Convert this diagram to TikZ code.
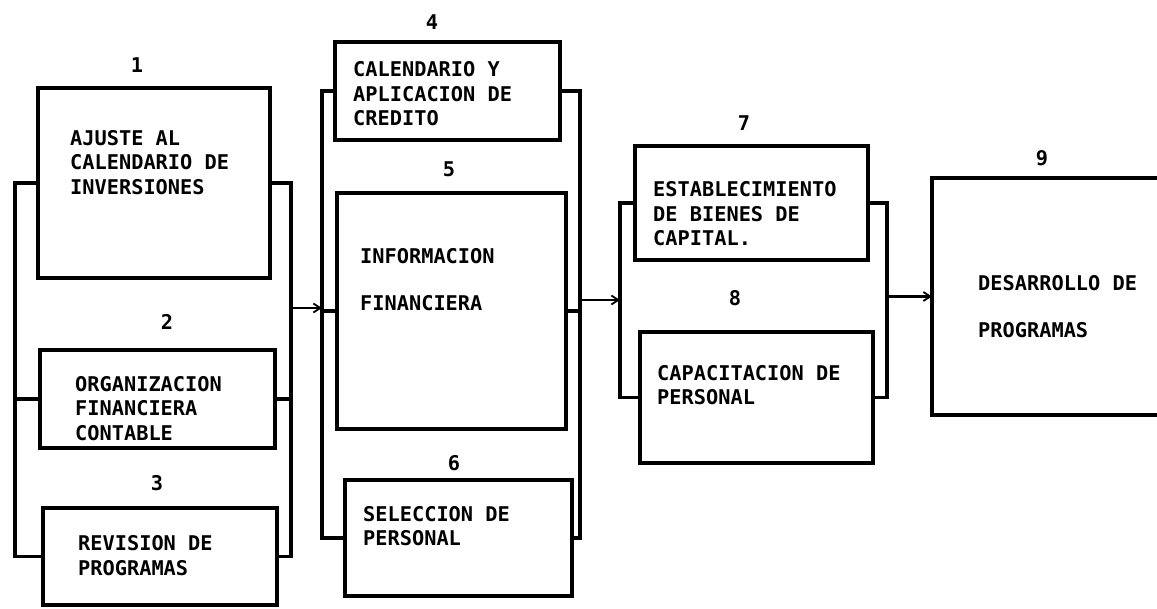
\documentclass[tikz,border=0pt]{standalone}
\usepackage{fontspec}
\newfontfamily\printfont{DejaVu Sans Mono}
\usetikzlibrary{arrows.meta,calc}
\begin{document}
\begin{tikzpicture}[x=1pt,y=-1pt,
  box/.style={draw, line width=3.2pt, rectangle, anchor=north west, inner sep=0pt, outer sep=0pt},
  txt/.style={anchor=base west, inner sep=0pt, align=left, font=\printfont\bfseries\fontsize{20.3}{24.5}\selectfont},
  wide/.style={font=\printfont\bfseries\fontsize{20.3}{47.5}\selectfont},
  num/.style={inner sep=0pt, font=\printfont\bfseries\fontsize{20.3}{24}\selectfont},
  brk/.style={line width=3.2pt, line join=miter},
  flow/.style={line width=2.4pt, -{Straight Barb[length=7pt,width=9pt,line width=1.8pt]}}]
\useasboundingbox (0,0) rectangle (1157,608);
\fill[white] (0,0) rectangle (1157,608);
\begin{scope}
\clip (0,0) rectangle (1157,608);
% boxes
\node[box, minimum width=232pt, minimum height=190pt] (b1) at (38,88) {};
\node[box, minimum width=235pt, minimum height=98pt] (b2) at (40,350) {};
\node[box, minimum width=234pt, minimum height=97pt] (b3) at (43,508) {};
\node[box, minimum width=225pt, minimum height=98pt] (b4) at (335,42) {};
\node[box, minimum width=229pt, minimum height=236pt] (b5) at (337,193) {};
\node[box, minimum width=227pt, minimum height=116pt] (b6) at (345,480) {};
\node[box, minimum width=233pt, minimum height=114pt] (b7) at (635,146) {};
\node[box, minimum width=233pt, minimum height=131pt] (b8) at (640,332) {};
\node[box, minimum width=240pt, minimum height=237pt] (b9) at (932,178) {};
% numbers
\node[num] (n1) at (137,65) {1};
\node[num] (n2) at (167,322) {2};
\node[num] (n3) at (157,483) {3};
\node[num] (n4) at (432,22) {4};
\node[num] (n5) at (449,169) {5};
\node[num] (n6) at (454,463) {6};
\node[num] (n7) at (744,123) {7};
\node[num] (n8) at (735,298) {8};
\node[num] (n9) at (1042,158) {9};
% texts (anchored at the baseline of the last line)
\node[txt] (t1) at (70,194) {AJUSTE AL\\CALENDARIO DE\\INVERSIONES};
\node[txt] (t2) at (75,440) {ORGANIZACION\\FINANCIERA\\CONTABLE};
\node[txt] (t3) at (78,575) {REVISION DE\\PROGRAMAS};
\node[txt] (t4) at (353,125.5) {CALENDARIO Y\\APLICACION DE\\CREDITO};
\node[txt,wide] (t5) at (360,310.5) {INFORMACION\\FINANCIERA};
\node[txt] (t6) at (363,545.5) {SELECCION DE\\PERSONAL};
\node[txt] (t7) at (653,245.5) {ESTABLECIMIENTO\\DE BIENES DE\\CAPITAL.};
\node[txt] (t8) at (657,404.5) {CAPACITACION DE\\PERSONAL};
\node[txt,wide] (t9) at (978,337.5) {DESARROLLO DE\\PROGRAMAS};
% bracket columns
\coordinate (L1) at (15,0);  \coordinate (R1) at (291,0);
\coordinate (L2) at (322,0); \coordinate (R2) at (580,0);
\coordinate (L3) at (620,0); \coordinate (R3) at (887,0);
% column 1
\draw[brk] (b1.west) -- (b1.west -| L1) -- (b3.west -| L1) -- (b3.west);
\draw[brk] (b2.west) -- (b2.west -| L1);
\draw[brk] (b1.east) -- (b1.east -| R1) -- (b3.east -| R1) -- (b3.east);
\draw[brk] (b2.east) -- (b2.east -| R1);
% column 2
\draw[brk] (b4.west) -- (b4.west -| L2) -- (b6.west -| L2) -- (b6.west);
\draw[brk] (b5.west) -- (b5.west -| L2);
\draw[brk] (b4.east) -- (b4.east -| R2) -- (b6.east -| R2) -- (b6.east);
\draw[brk] (b5.east) -- (b5.east -| R2);
% column 3
\draw[brk] (b7.west) -- (b7.west -| L3) -- (b8.west -| L3) -- (b8.west);
\draw[brk] (b7.east) -- (b7.east -| R3) -- (b8.east -| R3) -- (b8.east);
% flow arrows
\coordinate (o1) at (291,308); \coordinate (i2) at (322,308);
\coordinate (o2) at (580,300); \coordinate (i3) at (620,300);
\coordinate (o3) at (b9.west -| R3);
\draw[flow] (o1) -- (i2);
\draw[flow] (o2) -- (i3);
\draw[flow] (o3) -- (b9.west);
\end{scope}
\end{tikzpicture}
\end{document}
